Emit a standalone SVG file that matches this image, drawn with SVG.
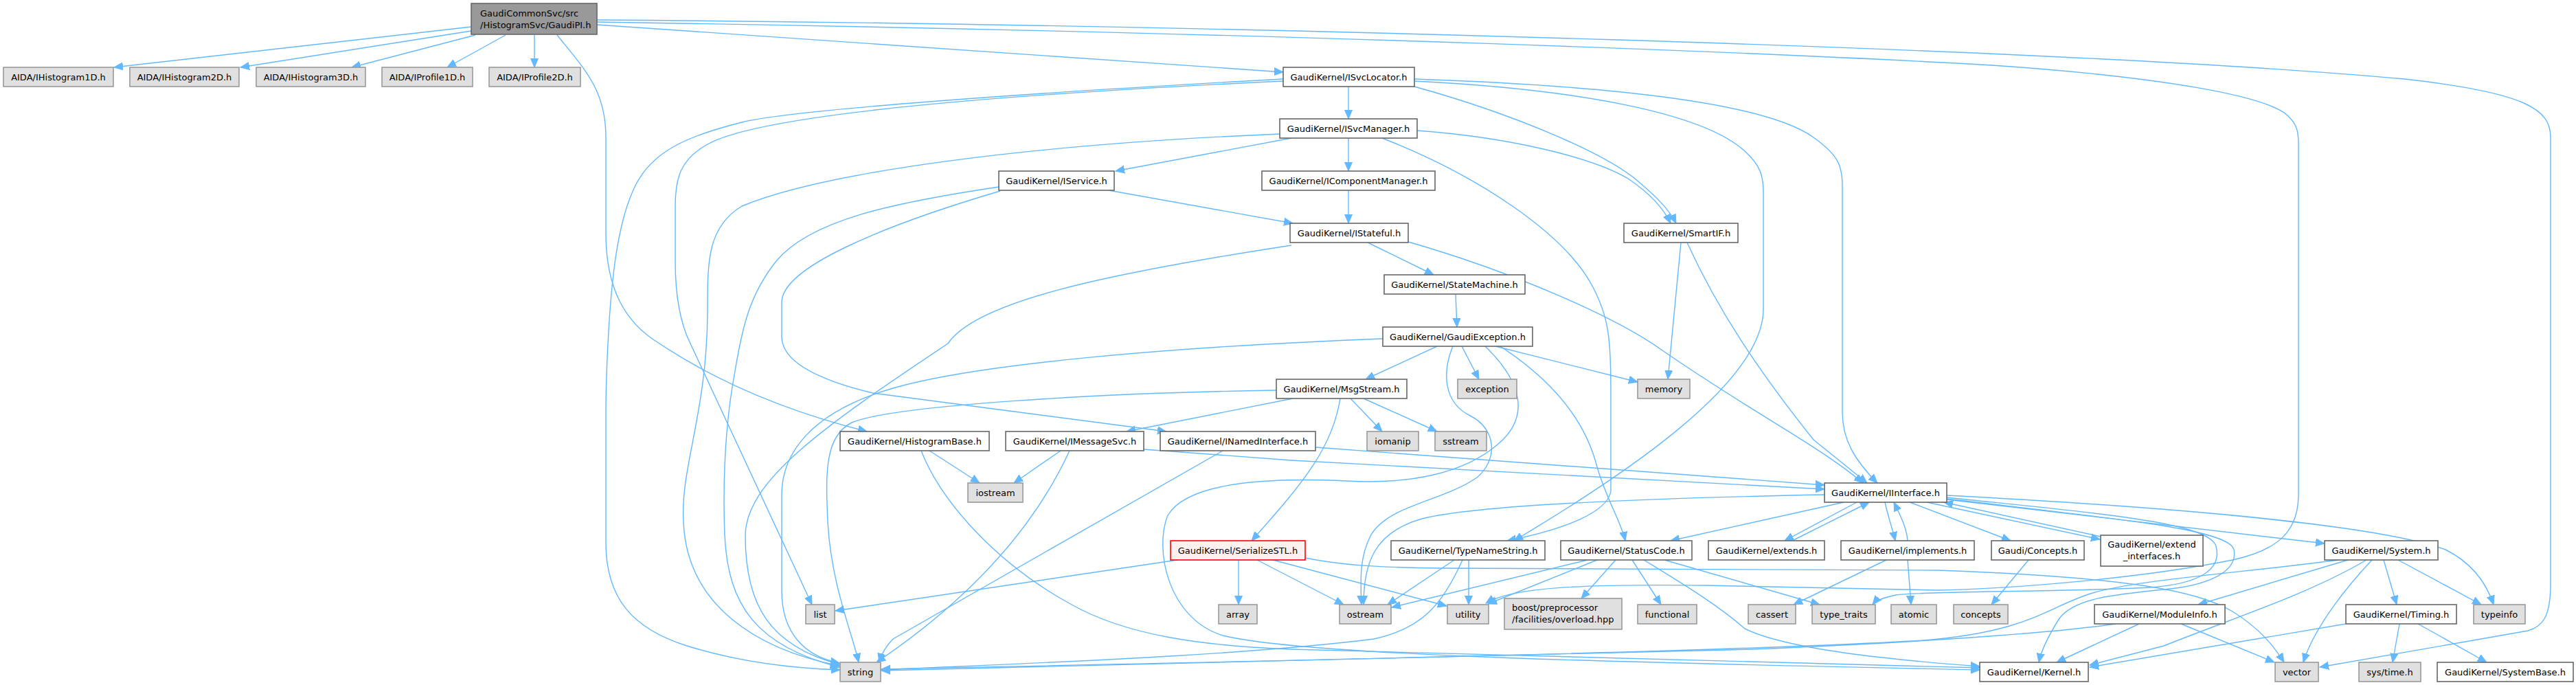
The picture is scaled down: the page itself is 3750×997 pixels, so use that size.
<svg xmlns="http://www.w3.org/2000/svg" width="3750" height="997" viewBox="0 0 3750 997">
<defs>
<marker id="arr" markerUnits="userSpaceOnUse" markerWidth="15" markerHeight="13" refX="13" refY="6" orient="auto">
<path d="M0,0.5 L13,6 L0,11.5 z" fill="#63b8ff" stroke="#63b8ff" stroke-width="1"/>
</marker>
<style>
.e{fill:none;stroke:#63b8ff;stroke-width:1.4;marker-end:url(#arr)}
.w{fill:#ffffff;stroke:#666666;stroke-width:1.6}
.g{fill:#e0e0e0;stroke:#999999;stroke-width:1.6}
.r{fill:#999999;stroke:#666666;stroke-width:1.6}
.s{fill:#fff0f0;stroke:#ff0000;stroke-width:1.6}
text{font-family:"DejaVu Sans",sans-serif;font-size:13px;fill:#000000}
.c{text-anchor:middle}
</style>
</defs>
<rect x="0" y="0" width="3750" height="997" fill="#ffffff"/>
<g id="edges">
<path class="e" d="M686,39 L166,98"/>
<path class="e" d="M686,45 L350,98"/>
<path class="e" d="M692,51 L512,98"/>
<path class="e" d="M736,51 L651,98"/>
<path class="e" d="M778,51 L778,98"/>
<path class="e" d="M869,36 L1868,105"/>
<path class="e" d="M811,51 C850,100 882,130 882,200 L882,340 C882,420 910,470 960,500 C1050,560 1150,600 1262,628"/>
<path class="e" d="M869,29 C1800,36 3000,70 3500,115 C3680,135 3713,160 3713,200 L3713,850 C3713,900 3700,912 3680,918 L3377,971"/>
<path class="e" d="M869,32 C1900,48 2600,78 2900,95 C3150,112 3300,140 3330,168 C3343,180 3346,190 3346,210 L3346,720 C3346,770 3320,800 3250,815 C3100,845 2900,858 2820,859 L2480,852 C2300,850 2200,855 2163,878"/>
<path class="e" d="M1963,126 L1963,173"/>
<path class="e" d="M1868,115 C1500,135 1150,160 1080,178 C1000,198 950,220 925,270 C900,320 890,400 885,500 C883,540 882,560 882,600 L882,790 C882,870 920,915 1000,940 C1080,965 1160,973 1223,975"/>
<path class="e" d="M1868,118 C1400,140 1100,170 1030,210 C990,232 983,260 983,300 L983,380 C983,430 990,470 1005,500 L1182,880"/>
<path class="e" d="M2059,126 C2200,165 2330,220 2380,260 C2410,285 2430,305 2440,325"/>
<path class="e" d="M2059,115 C2350,125 2570,150 2640,200 C2675,225 2682,240 2682,270 L2682,600 C2682,640 2700,670 2733,703"/>
<path class="e" d="M2059,118 C2300,130 2480,165 2540,220 C2562,240 2567,255 2567,280 L2567,450 C2567,560 2350,700 2204,787"/>
<path class="e" d="M1963,201 L1963,249"/>
<path class="e" d="M1880,201 L1624,249"/>
<path class="e" d="M1863,195 C1500,210 1200,250 1080,300 C1030,330 1030,380 1030,450 C1030,600 990,680 995,760 C1000,880 1100,945 1222,969"/>
<path class="e" d="M2063,190 C2200,200 2320,230 2370,260 C2400,280 2420,300 2432,325"/>
<path class="e" d="M2012,201 C2150,255 2280,340 2320,420 C2345,470 2345,500 2345,600 L2345,715 C2340,745 2280,770 2194,787"/>
<path class="e" d="M1963,277 L1963,325"/>
<path class="e" d="M1614,277 L1882,325"/>
<path class="e" d="M1454,272 C1300,295 1180,320 1130,380 C1090,430 1080,480 1070,540 C1055,620 1052,700 1055,780 C1060,880 1100,940 1222,971"/>
<path class="e" d="M1456,278 C1280,330 1138,390 1138,440 L1138,490 C1138,530 1200,555 1270,572 L1698,628"/>
<path class="e" d="M1991,353 L2087,400"/>
<path class="e" d="M2050,352 C2200,395 2350,460 2420,510 C2550,600 2650,650 2712,703"/>
<path class="e" d="M1880,357 C1600,400 1420,440 1380,500 C1200,620 1085,700 1085,780 C1085,880 1120,940 1222,967"/>
<path class="e" d="M2447,353 L2428,552"/>
<path class="e" d="M2456,353 C2500,450 2560,540 2640,640 L2718,703"/>
<path class="e" d="M2119,428 L2121,476"/>
<path class="e" d="M2092,504 L1988,552"/>
<path class="e" d="M2128,504 L2153,552"/>
<path class="e" d="M2177,504 L2384,556"/>
<path class="e" d="M2115,504 C2100,540 2100,585 2140,605 C2180,625 2180,670 2150,695 C2100,730 2020,735 1995,780 C1980,810 1980,840 1982,880"/>
<path class="e" d="M2162,504 C2220,560 2225,610 2180,647 C2130,690 2050,705 1960,700 C1850,695 1730,700 1700,750 C1680,800 1700,900 1780,925 C1900,955 2400,965 2882,975"/>
<path class="e" d="M2184,504 C2270,560 2310,620 2325,680 C2340,730 2360,760 2366,787"/>
<path class="e" d="M2013,493 C1700,505 1420,530 1300,565 C1180,600 1138,660 1138,720 L1138,860 C1138,920 1170,955 1222,965"/>
<path class="e" d="M1858,568 C1600,572 1300,590 1240,615 C1200,635 1202,690 1205,760 C1210,850 1240,920 1250,964"/>
<path class="e" d="M1882,580 L1640,628"/>
<path class="e" d="M1951,580 C1940,650 1900,700 1822,787"/>
<path class="e" d="M1966,580 L2012,628"/>
<path class="e" d="M1985,580 L2092,628"/>
<path class="e" d="M1353,656 L1426,703"/>
<path class="e" d="M1341,656 C1370,730 1450,820 1560,880 C1640,925 1750,940 1880,945 L2882,972"/>
<path class="e" d="M1544,656 L1476,703"/>
<path class="e" d="M1557,656 C1500,780 1400,880 1276,964"/>
<path class="e" d="M1665,654 L1880,670 L2656,712"/>
<path class="e" d="M1780,656 L1300,930 Q1285,945 1280,964"/>
<path class="e" d="M1915,651 L2656,706"/>
<path class="e" d="M2703,731 L2598,787"/>
<path class="e" d="M2609,787 L2721,731"/>
<path class="e" d="M2744,731 C2748,750 2755,770 2759,787"/>
<path class="e" d="M2777,787 C2775,765 2765,748 2757,731"/>
<path class="e" d="M2780,731 L2927,787"/>
<path class="e" d="M2805,731 L3057,785"/>
<path class="e" d="M3058,781 L2830,731"/>
<path class="e" d="M2834,727 L3384,791"/>
<path class="e" d="M2834,721 C3100,735 3450,760 3560,800 C3600,820 3620,850 3630,880"/>
<path class="e" d="M2834,724 C3060,748 3215,760 3226,795 C3235,830 3200,850 3130,855 C3000,862 2800,860 2760,866 C2740,870 2730,875 2726,880"/>
<path class="e" d="M2834,726 C3080,755 3245,770 3252,800 C3258,830 3220,850 3160,857 C3080,865 3020,870 2998,900 C2982,925 2972,945 2968,964"/>
<path class="e" d="M2684,731 L2432,787"/>
<path class="e" d="M2656,720 C2400,725 2150,735 2070,755 C2000,775 1985,820 1985,880"/>
<path class="e" d="M2311,815 L2026,884"/>
<path class="e" d="M2325,815 L2166,879"/>
<path class="e" d="M2352,815 L2302,871"/>
<path class="e" d="M2376,815 L2418,880"/>
<path class="e" d="M2423,815 L2649,880"/>
<path class="e" d="M2393,815 C2450,850 2500,880 2540,915 C2600,945 2750,960 2882,970"/>
<path class="e" d="M2117,815 L2020,880"/>
<path class="e" d="M2138,815 L2138,880"/>
<path class="e" d="M2129,815 C2100,880 2070,915 2000,930 C1800,955 1500,965 1283,975"/>
<path class="e" d="M1714,815 L1216,889"/>
<path class="e" d="M1803,815 L1803,880"/>
<path class="e" d="M1830,815 L1956,880"/>
<path class="e" d="M1853,815 L2106,882"/>
<path class="e" d="M1900,812 C1950,822 2000,826 2100,827 L2820,830 C3100,840 3200,860 3250,890 C3290,915 3310,940 3325,964"/>
<path class="e" d="M2746,815 L2611,880"/>
<path class="e" d="M2777,815 L2782,880"/>
<path class="e" d="M2953,815 L2899,880"/>
<path class="e" d="M3418,815 L3200,880"/>
<path class="e" d="M3470,815 L3489,880"/>
<path class="e" d="M3491,815 L3612,880"/>
<path class="e" d="M3453,815 C3420,850 3370,910 3353,964"/>
<path class="e" d="M3445,815 C3360,865 3250,900 3150,940 L3042,968"/>
<path class="e" d="M3405,815 C3250,835 3100,845 3040,865 C2980,885 2950,920 2800,932 C2500,950 1700,965 1283,974"/>
<path class="e" d="M3175,908 L3311,964"/>
<path class="e" d="M3114,908 L2994,964"/>
<path class="e" d="M3080,908 C3000,920 2800,935 2550,945 L1283,976"/>
<path class="e" d="M3493,908 L3483,964"/>
<path class="e" d="M3520,908 L3620,964"/>
<path class="e" d="M3415,908 L3042,971"/>
</g>
<g id="n_root"><rect class="r" x="686" y="5" width="183" height="45"/><text x="699" y="24">GaudiCommonSvc/src</text><text x="699" y="41">/HistogramSvc/GaudiPI.h</text></g>
<g id="n_ih1"><rect class="g" x="5" y="98" width="160" height="28"/><text class="c" x="85" y="116.5">AIDA/IHistogram1D.h</text></g>
<g id="n_ih2"><rect class="g" x="189" y="98" width="159" height="28"/><text class="c" x="268.5" y="116.5">AIDA/IHistogram2D.h</text></g>
<g id="n_ih3"><rect class="g" x="373" y="98" width="159" height="28"/><text class="c" x="452.5" y="116.5">AIDA/IHistogram3D.h</text></g>
<g id="n_ip1"><rect class="g" x="556" y="98" width="132" height="28"/><text class="c" x="622" y="116.5">AIDA/IProfile1D.h</text></g>
<g id="n_ip2"><rect class="g" x="712" y="98" width="133" height="28"/><text class="c" x="778.5" y="116.5">AIDA/IProfile2D.h</text></g>
<g id="n_isvcloc"><rect class="w" x="1868" y="98" width="191" height="28"/><text class="c" x="1963.5" y="116.5">GaudiKernel/ISvcLocator.h</text></g>
<g id="n_isvcman"><rect class="w" x="1863" y="173" width="200" height="28"/><text class="c" x="1963" y="191.5">GaudiKernel/ISvcManager.h</text></g>
<g id="n_iservice"><rect class="w" x="1454" y="249" width="168" height="28"/><text class="c" x="1538" y="267.5">GaudiKernel/IService.h</text></g>
<g id="n_icompman"><rect class="w" x="1837" y="249" width="252" height="28"/><text class="c" x="1963" y="267.5">GaudiKernel/IComponentManager.h</text></g>
<g id="n_istateful"><rect class="w" x="1878" y="325" width="172" height="28"/><text class="c" x="1964" y="343.5">GaudiKernel/IStateful.h</text></g>
<g id="n_smartif"><rect class="w" x="2364" y="325" width="166" height="28"/><text class="c" x="2447" y="343.5">GaudiKernel/SmartIF.h</text></g>
<g id="n_statemachine"><rect class="w" x="2015" y="400" width="205" height="28"/><text class="c" x="2117.5" y="418.5">GaudiKernel/StateMachine.h</text></g>
<g id="n_gaudiexc"><rect class="w" x="2013" y="476" width="218" height="28"/><text class="c" x="2122" y="494.5">GaudiKernel/GaudiException.h</text></g>
<g id="n_msgstream"><rect class="w" x="1858" y="552" width="190" height="28"/><text class="c" x="1953" y="570.5">GaudiKernel/MsgStream.h</text></g>
<g id="n_exception"><rect class="g" x="2122" y="552" width="86" height="28"/><text class="c" x="2165" y="570.5">exception</text></g>
<g id="n_memory"><rect class="g" x="2384" y="552" width="76" height="28"/><text class="c" x="2422" y="570.5">memory</text></g>
<g id="n_histbase"><rect class="w" x="1223" y="628" width="217" height="28"/><text class="c" x="1331.5" y="646.5">GaudiKernel/HistogramBase.h</text></g>
<g id="n_imsgsvc"><rect class="w" x="1464" y="628" width="201" height="28"/><text class="c" x="1564.5" y="646.5">GaudiKernel/IMessageSvc.h</text></g>
<g id="n_inamed"><rect class="w" x="1689" y="628" width="226" height="28"/><text class="c" x="1802" y="646.5">GaudiKernel/INamedInterface.h</text></g>
<g id="n_iomanip"><rect class="g" x="1990" y="628" width="75" height="28"/><text class="c" x="2027.5" y="646.5">iomanip</text></g>
<g id="n_sstream"><rect class="g" x="2089" y="628" width="75" height="28"/><text class="c" x="2126.5" y="646.5">sstream</text></g>
<g id="n_iostream"><rect class="g" x="1409" y="703" width="80" height="28"/><text class="c" x="1449" y="721.5">iostream</text></g>
<g id="n_iinterface"><rect class="w" x="2656" y="703" width="178" height="28"/><text class="c" x="2745" y="721.5">GaudiKernel/IInterface.h</text></g>
<g id="n_serializestl"><rect class="s" x="1704" y="787" width="196" height="28"/><text class="c" x="1802" y="805.5">GaudiKernel/SerializeSTL.h</text></g>
<g id="n_typename"><rect class="w" x="2025" y="787" width="224" height="28"/><text class="c" x="2137" y="805.5">GaudiKernel/TypeNameString.h</text></g>
<g id="n_statuscode"><rect class="w" x="2272" y="787" width="191" height="28"/><text class="c" x="2367.5" y="805.5">GaudiKernel/StatusCode.h</text></g>
<g id="n_extends"><rect class="w" x="2487" y="787" width="169" height="28"/><text class="c" x="2571.5" y="805.5">GaudiKernel/extends.h</text></g>
<g id="n_implements"><rect class="w" x="2680" y="787" width="194" height="28"/><text class="c" x="2777" y="805.5">GaudiKernel/implements.h</text></g>
<g id="n_concepts_h"><rect class="w" x="2899" y="787" width="135" height="28"/><text class="c" x="2966.5" y="805.5">Gaudi/Concepts.h</text></g>
<g id="n_extendif"><rect class="w" x="3058" y="779" width="149" height="45"/><text class="c" x="3132.5" y="797">GaudiKernel/extend</text><text class="c" x="3132.5" y="814">_interfaces.h</text></g>
<g id="n_system"><rect class="w" x="3384" y="787" width="165" height="28"/><text class="c" x="3466.5" y="805.5">GaudiKernel/System.h</text></g>
<g id="n_list"><rect class="g" x="1173" y="880" width="42" height="28"/><text class="c" x="1194" y="898.5">list</text></g>
<g id="n_array"><rect class="g" x="1774" y="880" width="56" height="28"/><text class="c" x="1802" y="898.5">array</text></g>
<g id="n_ostream"><rect class="g" x="1950" y="880" width="75" height="28"/><text class="c" x="1987.5" y="898.5">ostream</text></g>
<g id="n_utility"><rect class="g" x="2107" y="880" width="60" height="28"/><text class="c" x="2137" y="898.5">utility</text></g>
<g id="n_boost"><rect class="g" x="2190" y="871" width="171" height="45"/><text x="2201" y="889">boost/preprocessor</text><text x="2201" y="906">/facilities/overload.hpp</text></g>
<g id="n_functional"><rect class="g" x="2384" y="880" width="86" height="28"/><text class="c" x="2427" y="898.5">functional</text></g>
<g id="n_cassert"><rect class="g" x="2545" y="880" width="69" height="28"/><text class="c" x="2579.5" y="898.5">cassert</text></g>
<g id="n_typetraits"><rect class="g" x="2638" y="880" width="92" height="28"/><text class="c" x="2684" y="898.5">type_traits</text></g>
<g id="n_atomic"><rect class="g" x="2753" y="880" width="66" height="28"/><text class="c" x="2786" y="898.5">atomic</text></g>
<g id="n_concepts"><rect class="g" x="2844" y="880" width="79" height="28"/><text class="c" x="2883.5" y="898.5">concepts</text></g>
<g id="n_moduleinfo"><rect class="w" x="3049" y="880" width="190" height="28"/><text class="c" x="3144" y="898.5">GaudiKernel/ModuleInfo.h</text></g>
<g id="n_timing"><rect class="w" x="3415" y="880" width="161" height="28"/><text class="c" x="3495.5" y="898.5">GaudiKernel/Timing.h</text></g>
<g id="n_typeinfo"><rect class="g" x="3601" y="880" width="75" height="28"/><text class="c" x="3638.5" y="898.5">typeinfo</text></g>
<g id="n_string"><rect class="g" x="1223" y="964" width="59" height="28"/><text class="c" x="1252.5" y="982.5">string</text></g>
<g id="n_kernel"><rect class="w" x="2882" y="964" width="158" height="28"/><text class="c" x="2961" y="982.5">GaudiKernel/Kernel.h</text></g>
<g id="n_vector"><rect class="g" x="3312" y="964" width="63" height="28"/><text class="c" x="3343.5" y="982.5">vector</text></g>
<g id="n_systime"><rect class="g" x="3434" y="964" width="90" height="28"/><text class="c" x="3479" y="982.5">sys/time.h</text></g>
<g id="n_systembase"><rect class="w" x="3548" y="964" width="198" height="28"/><text class="c" x="3647" y="982.5">GaudiKernel/SystemBase.h</text></g>
</svg>
